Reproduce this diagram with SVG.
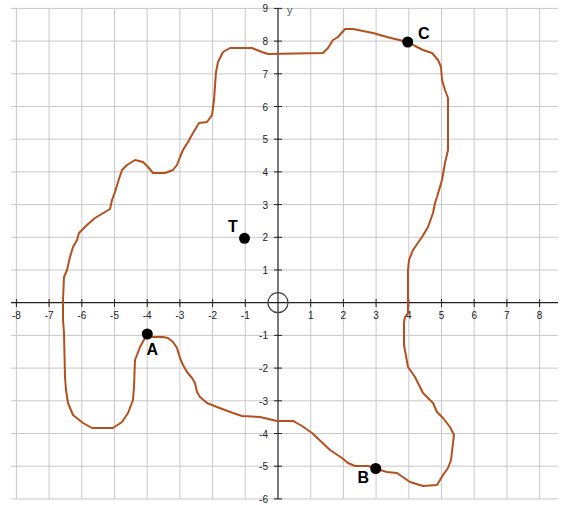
<svg xmlns="http://www.w3.org/2000/svg" width="561" height="505" viewBox="0 0 561 505">
<style>
.g{stroke:#c8c8c8;stroke-width:1;fill:none}
.ax{stroke:#222;stroke-width:1.2;fill:none}
.tk{stroke:#222;stroke-width:1}
.xl{font-family:"Liberation Sans",Arial,sans-serif;font-size:10px;fill:#222;text-anchor:middle}
.yl{font-family:"Liberation Sans",Arial,sans-serif;font-size:10px;fill:#222;text-anchor:end}
.pl{font-family:"Liberation Sans",Arial,sans-serif;font-size:16px;font-weight:bold;fill:#000}
.pt{fill:#000}
</style>
<rect width="561" height="505" fill="#fff"/>
<g id="grid" class="g">
<path d="M16.4 8.4V498.9M49.1 8.4V498.9M81.8 8.4V498.9M114.5 8.4V498.9M147.2 8.4V498.9M179.9 8.4V498.9M212.6 8.4V498.9M245.3 8.4V498.9M310.7 8.4V498.9M343.4 8.4V498.9M376.1 8.4V498.9M408.8 8.4V498.9M441.5 8.4V498.9M474.2 8.4V498.9M506.9 8.4V498.9M539.6 8.4V498.9"/>
<path d="M11 8.4H558M11 41.1H558M11 73.8H558M11 106.5H558M11 139.2H558M11 171.9H558M11 204.6H558M11 237.3H558M11 270H558M11 335.4H558M11 368.1H558M11 400.8H558M11 433.5H558M11 466.2H558M11 498.9H558"/>
</g>
<g id="axes">
<path class="ax" d="M11 302.7H558M278 8.4V498.9"/>
<path class="tk" d="M16.4 299V307M49.1 299V307M81.8 299V307M114.5 299V307M147.2 299V307M179.9 299V307M212.6 299V307M245.3 299V307M310.7 299V307M343.4 299V307M376.1 299V307M408.8 299V307M441.5 299V307M474.2 299V307M506.9 299V307M539.6 299V307"/>
<path class="tk" d="M274 8.4H282M274 41.1H282M274 73.8H282M274 106.5H282M274 139.2H282M274 171.9H282M274 204.6H282M274 237.3H282M274 270H282M274 335.4H282M274 368.1H282M274 400.8H282M274 433.5H282M274 466.2H282M274 498.9H282"/>
<circle cx="278" cy="302.7" r="10" fill="none" stroke="#444" stroke-width="1.2"/>
<g class="xl">
<text x="16.4" y="319">-8</text><text x="49.1" y="319">-7</text><text x="81.8" y="319">-6</text><text x="114.5" y="319">-5</text><text x="147.2" y="319">-4</text><text x="179.9" y="319">-3</text><text x="212.6" y="319">-2</text><text x="245.3" y="319">-1</text>
<text x="310.7" y="319">1</text><text x="343.4" y="319">2</text><text x="376.1" y="319">3</text><text x="408.8" y="319">4</text><text x="441.5" y="319">5</text><text x="474.2" y="319">6</text><text x="506.9" y="319">7</text><text x="539.6" y="319">8</text>
</g>
<g class="yl">
<text x="268" y="12.4">9</text><text x="268" y="45.1">8</text><text x="268" y="77.8">7</text><text x="268" y="110.5">6</text><text x="268" y="143.2">5</text><text x="268" y="175.9">4</text><text x="268" y="208.6">3</text><text x="268" y="241.3">2</text><text x="268" y="274">1</text>
<text x="268" y="339.4">-1</text><text x="268" y="372.1">-2</text><text x="268" y="404.8">-3</text><text x="268" y="437.5">-4</text><text x="268" y="470.2">-5</text><text x="268" y="502.9">-6</text>
</g>
<text x="287" y="14" font-family="Liberation Sans,Arial,sans-serif" font-size="11" fill="#555">y</text>
</g>
<g id="connectors">
<polygon id="curve" fill="none" stroke="#b4501e" stroke-width="2" stroke-linejoin="round" points="408,42 415,46 423,50 432,53 438,60 441,67 442,80 445,90 448,98 448,150 445,163 442,180 437,197 435,203 433,213 428,227 422,237 413,250 409,260 408,270 408,313 405,317 404,322 404,345 408,367 415,377 420,387 423,393 433,403 437,412 443,418 450,427 454,435 453,443 451,460 448,468 443,475 437,485 423,486 410,482 397,473 387,472 380,470 376,468 368,466 355,466 348,463 342,458 330,450 312,433 302,426 295,422 293,421 277,421 260,417 242,416 233,413 217,407 207,403 200,397 197,392 195,383 192,378 187,372 183,365 180,358 177,348 173,342 168,338 163,337 152,337 147,334 145,338 140,347 137,355 135,360 134,387 133,400 128,413 122,422 113,428 92,428 83,423 73,415 68,403 66,390 65,377 64,333 63,320 63,300 64,277 67,270 70,257 73,247 77,240 79,233 87,225 95,218 110,209 112,200 115,192 118,182 122,170 127,165 135,160 143,162 148,167 153,173 165,173 173,170 177,165 180,157 183,150 188,142 193,133 199,123 207,122 212,115 214,100 216,72 218,62 223,52 230,48 252,48 262,52 268,54 323,53 328,48 333,40 338,37 345,29 353,29 363,31 373,33 387,37 395,39"/>
</g>
<g id="point-C"><circle class="pt" cx="407.7" cy="42" r="5.5"/><text class="pl" x="418" y="38.5">C</text></g>
<g id="point-T"><circle class="pt" cx="244.5" cy="238.3" r="5.5"/><text class="pl" x="228" y="231.5">T</text></g>
<g id="point-A"><circle class="pt" cx="147.3" cy="334" r="5.5"/><text class="pl" x="146.5" y="355">A</text></g>
<g id="point-B"><circle class="pt" cx="375.7" cy="468.5" r="5.5"/><text class="pl" x="357.5" y="483.3">B</text></g>
</svg>
